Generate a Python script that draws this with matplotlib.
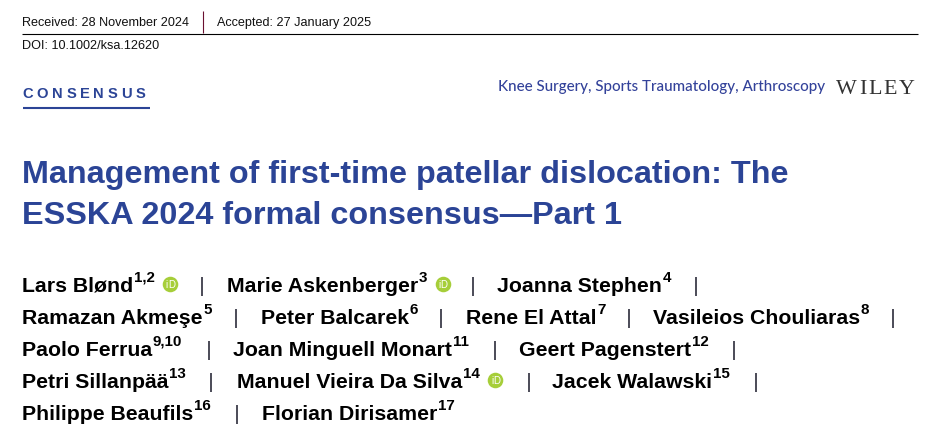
import matplotlib
matplotlib.use("Agg")
import matplotlib.pyplot as plt

# header text
received = "Received: 28 November 2024"
accepted = "Accepted: 27 January 2025"
doi = "DOI: 10.1002/ksa.12620"
section = "CONSENSUS"
journal = "Knee Surgery, Sports Traumatology, Arthroscopy"
publisher = "WILEY"
title_lines = ["Management of first-time patellar dislocation: The",
               "ESSKA 2024 formal consensus\u2014Part 1"]

# authors, one list per printed row
names_1 = ["Lars Bl\u00f8nd", "Marie Askenberger", "Joanna Stephen"]
names_2 = ["Ramazan Akme\u015fe", "Peter Balcarek", "Rene El Attal", "Vasileios Chouliaras"]
names_3 = ["Paolo Ferrua", "Joan Minguell Monart", "Geert Pagenstert"]
names_4 = ["Petri Sillanp\u00e4\u00e4", "Manuel Vieira Da Silva", "Jacek Walawski"]
names_5 = ["Philippe Beaufils", "Florian Dirisamer"]
sups_1 = ["1,2", "3", "4"]
sups_2 = ["5", "6", "7", "8"]
sups_3 = ["9,10", "11", "12"]
sups_4 = ["13", "14", "15"]
sups_5 = ["16", "17"]
orcid_names = ["Lars Bl\u00f8nd", "Marie Askenberger", "Manuel Vieira Da Silva"]

NAVY = "#2b4496"
W, H = 940, 445
SANS = "Liberation Sans"

fig = plt.figure(figsize=(W / 100, H / 100), dpi=100)
ax = fig.add_axes([0, 0, 1, 1])
ax.set_xlim(0, W)
ax.set_ylim(H, 0)
ax.axis("off")
renderer = fig.canvas.get_renderer()


def text_width(t):
    return t.get_window_extent(renderer).width


def spaced(x, y, s, gap, **kw):
    # no letter spacing in matplotlib, so place the letters one by one
    for ch in s:
        t = ax.text(x, y, ch, va="baseline", ha="left", **kw)
        x += text_width(t) + gap


ax.text(22, 26, received, fontsize=9.05, family=SANS, color="#111111", va="baseline")
ax.text(217, 26, accepted, fontsize=9.05, family=SANS, color="#111111", va="baseline")
ax.text(22, 49, doi, fontsize=9.05, family=SANS, color="#111111", va="baseline")
ax.plot([22, 918], [33.5, 33.5], color="black", lw=0.8, solid_capstyle="butt")
ax.plot([202.5, 202.5], [11, 33], color="#6b1030", lw=0.8, solid_capstyle="butt")

spaced(22, 98.5, section, 3.8, fontsize=10.6, family=SANS, weight="bold", color=NAVY)
ax.plot([23, 150], [108, 108], color=NAVY, lw=1.5, solid_capstyle="butt")

ax.text(498, 91, journal, fontsize=10.9, family="Lato", weight="medium", color="#33429a", va="baseline")
spaced(836, 94, publisher, 2.0, fontsize=15.8, family="Liberation Serif", color="#333333")

ax.text(22, 183, title_lines[0], fontsize=23.3, family=SANS, weight="bold", color=NAVY, va="baseline")
ax.text(22, 224, title_lines[1], fontsize=23.3, family=SANS, weight="bold", color=NAVY, va="baseline")

rows = [
    (292, names_1, sups_1, [22, 227, 497], [201.5, 472.5, 696]),
    (324, names_2, sups_2, [22, 261, 466, 653], [236, 441, 629, 893]),
    (356, names_3, sups_3, [22, 233, 519], [209, 495, 734]),
    (388, names_4, sups_4, [22, 237, 552], [211, 529, 756]),
    (420, names_5, sups_5, [22, 262], [237]),
]
for base, names, sups, xs, bars in rows:
    for name, sup, x in zip(names, sups, xs):
        t = ax.text(x, base, name, fontsize=15.3, family=SANS, weight="bold", color="black", va="baseline")
        end = x + text_width(t) + 0.5
        s = ax.text(end, base - 10, sup, fontsize=10.9, family=SANS, weight="bold", color="black", va="baseline")
        if name in orcid_names:
            cx = end + text_width(s) + 15.5
            ax.plot([cx], [base - 8], "o", ms=11.2, color="#a6ce39", mec="none")
            # i and D apart, they merge into one glyph at this size otherwise
            ax.text(cx - 3.2, base - 4.5, "i", fontsize=7, family=SANS, color="white", ha="center", va="baseline")
            ax.text(cx + 1.3, base - 4.5, "D", fontsize=7, family=SANS, color="white", ha="center", va="baseline")
    for bx in bars:
        ax.plot([bx, bx], [base - 15, base + 4], color="#1a1a2a", lw=1.1, solid_capstyle="butt")

fig.savefig("out.png", dpi=100)
